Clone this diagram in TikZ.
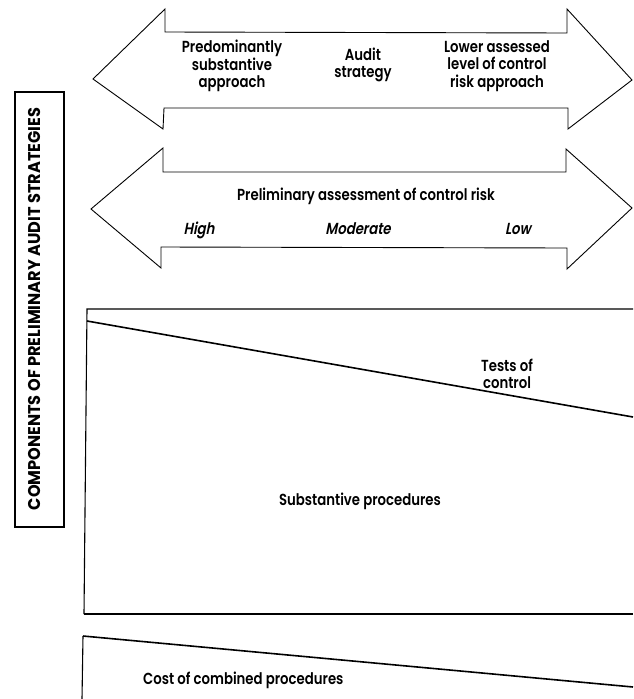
\documentclass[tikz,border=0pt]{standalone}
\usepackage{fontspec}
\setmainfont{Poppins}[UprightFont=* SemiBold,FakeStretch=0.83]
\newfontfamily\slantfont{Poppins}[UprightFont=* SemiBold,FakeStretch=0.83,FakeSlant=0.2]
\newfontfamily\capsfont{Poppins}[FakeStretch=0.95]
\begin{document}
\begin{tikzpicture}[x=1pt,y=-1pt,
  outline/.style={draw=black,line width=0.9pt,line join=miter},
  frame/.style={draw=black,line width=1.1pt},
  slope/.style={draw=black,line width=1.6pt},
  label/.style={inner sep=0pt,align=center,font=\fontsize{16}{17.5}\selectfont},
  lowlabel/.style={inner sep=0pt,font=\fontsize{16}{17.5}\selectfont\slantfont}]
\useasboundingbox (0,0) rectangle (633,699);

% audit strategy double arrow
\draw[outline] (93,79) -- (165,9) -- (165,32) -- (567,33) -- (567,9) -- (632,80)
  -- (568,129) -- (568,108) -- (164,108) -- (163,129) -- cycle;
\node[label] (subst) at (232,66) {Predominantly\\substantive\\approach};
\node[label] (strat) at (363,65) {Audit\\strategy};
\node[label] (lower) at (497,66) {Lower assessed\\level of control\\risk approach};

% control risk double arrow
\draw[outline] (91,209) -- (163,148) -- (163,172) -- (566,172) -- (566,149) -- (632,208)
  -- (567,269) -- (567,248) -- (161,247) -- (161,268) -- cycle;
\node[label] (prelim) at (366,196) {Preliminary assessment of control risk};
\node[lowlabel,anchor=base] (high) at (199,234) {High};
\node[lowlabel,anchor=base] (moder) at (358,234) {Moderate};
\node[lowlabel,anchor=base] (low) at (518,234) {Low};

% side caption
\draw[frame] (15,92) rectangle (64,527);
\node[inner sep=0pt,rotate=90,font=\fontsize{17}{19}\selectfont\capsfont\bfseries] (comp) at (35,309)
  {COMPONENTS OF PRELIMINARY AUDIT STRATEGIES};

% procedures panel
\draw[frame] (633,309) -- (87,309) -- (84,614);
\draw[black,line width=1.5pt] (84,614) -- (633,614);
\draw[slope] (87,321) -- (633,417);
\node[label] (tests) at (507,374) {Tests of\\control};
\node[label] (subproc) at (360,501) {Substantive procedures};

% cost panel
\draw[frame] (82,699) -- (83,636);
\draw[slope] (83,636) -- (633,687);
\node[label,anchor=west] (cost) at (143,680) {Cost of combined procedures};
\end{tikzpicture}
\end{document}
